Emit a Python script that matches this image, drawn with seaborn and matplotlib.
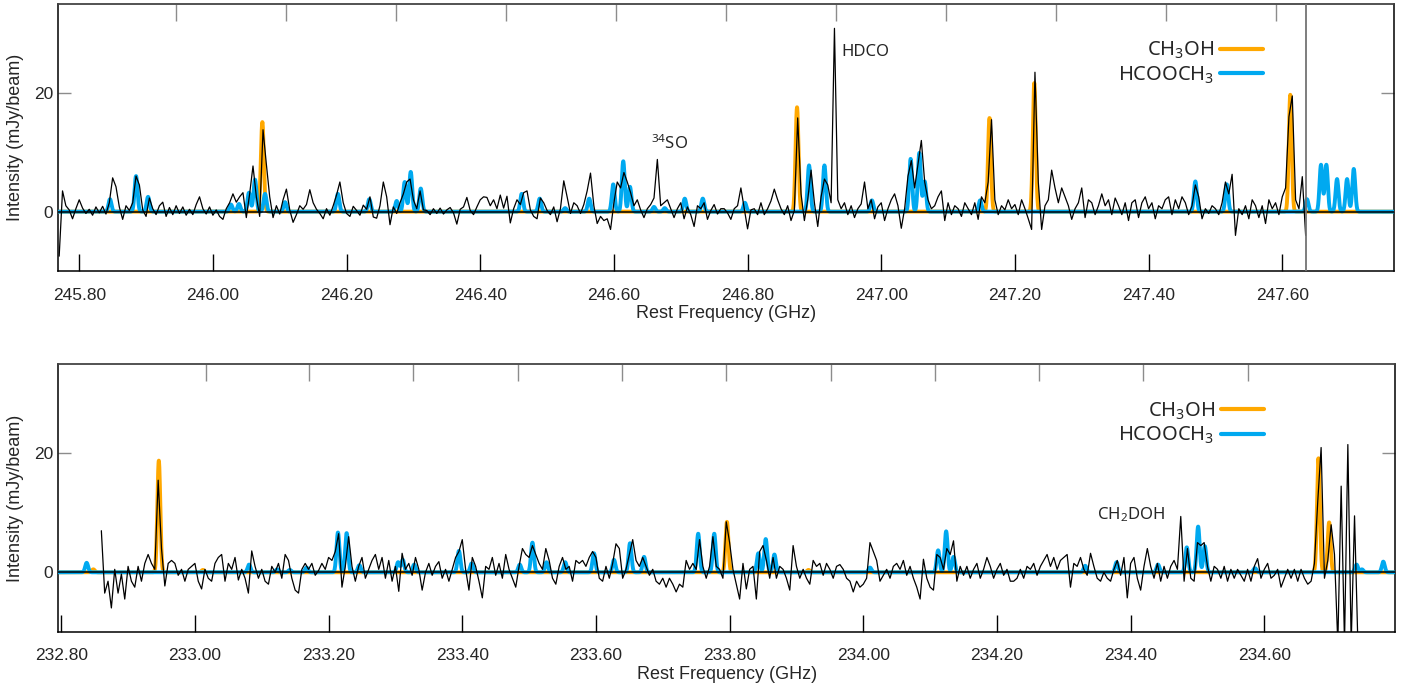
import numpy as np
import matplotlib
matplotlib.use("Agg")
import matplotlib.pyplot as plt
import seaborn as sns

# ---- observed spectra (mJy/beam), one value per 0.005 GHz channel ----
chan_width = 0.005
top_start = 245.770
top_obs = [
    -7.5, 3.5, 1.0, 0.3, -1.2, 0.5, 2.0, 0.6, -0.3, 0.4, -0.6, 0.8, -0.2, 0.9, -0.4, 1.5, 5.7, 4.2, 0.8, -1.3,
    1.0, 0.2, 1.5, 6.0, 4.5, 0.3, -0.8, 2.3, 0.5, -0.5, 1.0, 1.6, -0.8, 0.7, -0.5, 1.0, -0.3, 0.8, -0.6, 0.4,
    -0.5, 1.2, 2.5, 0.5, -0.4, 0.8, -0.6, 0.3, -0.8, -1.3, 0.5, 1.5, 3.0, 1.6, 2.5, 3.2, -1.0, 3.0, 7.7, 2.5,
    -0.8, 13.8, 8.0, 2.5, -1.0, 1.0, -0.4, 2.0, 3.8, 0.3, -1.8, -0.5, 1.0, 0.4, 1.2, 3.7, 1.5, 0.4, -0.3, -1.2,
    0.5, -0.6, 1.0, 2.8, 5.0, 1.5, -0.3, -0.8, 0.9, 0.2, -0.6, 1.1, 0.4, 2.5, -0.9, -1.1, 1.0, 5.0, 2.5, -2.2,
    0.8, -0.3, 1.5, 3.0, 5.0, 5.5, 2.0, 0.5, 3.5, 0.3, 0.2, -0.5, 0.5, -0.3, 0.6, -0.4, 0.3, 0.7, -0.2, -2.1,
    0.4, 0.8, 2.4, 0.2, -0.5, 0.8, 2.0, 2.5, 2.4, 1.0, 2.0, 0.5, 2.8, 0.6, 2.6, -1.9, 0.5, 2.0, 1.2, 3.2,
    3.5, 0.3, -0.8, -1.2, 2.3, 1.5, 0.2, -0.5, 0.8, -1.7, 0.5, 5.2, 2.5, -0.3, 1.5, 1.0, -0.3, 1.2, 3.5, 6.5,
    1.0, -2.0, -0.8, -1.5, -1.2, -3.0, 1.5, 5.0, 4.0, 6.6, 5.0, 3.2, 1.0, 2.0, 0.3, -1.0, 0.5, 1.2, 2.3, 8.8,
    1.0, 1.5, 2.0, 0.5, -1.0, 0.5, 1.5, -1.2, 0.8, -0.5, -2.5, 1.0, 0.5, 1.5, -1.3, 0.2, 1.2, -0.4, 0.5, 0.5,
    -0.2, -1.3, 0.5, 1.0, 4.0, 0.5, -2.9, 0.3, 0.5, -0.5, 1.5, -0.5, 0.5, 1.8, 3.8, 2.0, 0.5, -0.5, 1.0, -1.5,
    0.2, 15.8, 3.0, -1.5, 2.0, 7.0, 1.5, -2.5, 2.5, 5.5, 4.5, 1.5, 30.9, 2.0, 0.5, 1.5, -0.5, 1.0, -1.0, 0.5,
    1.3, 5.0, 0.5, 2.0, -1.2, 0.8, 1.5, -1.5, 0.5, 2.0, 3.0, 1.0, -2.8, 0.5, 6.0, 8.6, 4.0, 8.0, 12.0, 5.0,
    2.0, 0.5, 1.0, 2.5, 3.5, -1.5, 1.5, -0.5, 1.0, 0.5, -0.8, 1.5, 0.5, -0.5, 1.5, -1.3, 2.5, 1.5, 5.0, 15.5,
    2.0, -0.5, 1.0, 0.3, 2.0, 0.5, 1.2, -0.5, 2.0, 0.5, -1.2, -3.0, 23.5, 5.0, -3.0, 1.0, 2.0, 7.0, 4.0, 1.5,
    4.0, 2.5, 1.0, -1.3, 0.5, 1.5, 4.0, -1.0, 2.0, 1.5, -0.5, 1.0, 3.0, 1.0, 2.0, -0.5, 2.3, 1.0, -0.5, 1.5,
    -1.5, 1.5, 2.0, -1.0, 1.5, 2.5, 0.5, 1.5, -1.2, 1.0, 0.5, 2.0, 2.5, -0.5, 2.0, 0.5, 2.5, 1.5, -0.5, 1.0,
    4.5, 2.5, -1.2, 0.5, -0.3, 1.0, 0.5, -0.5, 1.5, 5.0, 3.0, 6.3, -4.0, 0.5, -0.5, 1.0, -1.2, 2.0, 1.0, -1.0,
    1.0, -2.0, 2.0, 0.5, 1.5, -0.5, 2.5, 4.0, 16.0, 19.5, 2.0, 0.5, 5.9, -4.0,
]

bot_start = 232.860
bot_obs = [
    7.0, -3.5, -1.5, -6.0, 0.5, -3.5, -0.3, -4.5, 1.0, -1.5, -2.5, 1.0, -1.5, 1.5, 3.0, 1.5, 0.5, 15.5, 4.0, -2.3,
    1.5, 2.0, 1.5, -0.5, 0.5, -1.5, 0.5, 1.0, 1.5, -1.5, -2.8, 0.5, -1.0, -1.5, 1.5, 2.5, 3.0, -1.5, 1.5, 0.5,
    2.5, -1.3, 0.5, -1.0, -3.5, 3.6, 1.0, -1.0, 0.5, -1.5, -2.0, 1.0, 0.0, 1.5, -1.0, 3.0, 2.0, -1.0, -3.0, -3.5,
    0.5, 1.5, 0.5, 1.5, -0.5, 0.3, 1.5, 0.5, 2.5, 2.0, 3.5, 6.5, -2.5, 1.0, 6.0, 1.0, -1.5, 1.0, 2.5, -1.0,
    0.5, 2.0, 3.0, 0.5, 2.5, -1.0, 2.0, -1.5, 1.0, -3.2, 3.2, 0.5, 1.5, -0.5, 2.5, 0.5, -3.0, 0.0, 1.5, -0.5,
    1.0, 1.8, -1.0, 0.5, -1.5, 0.5, 2.5, 3.5, 5.5, 0.5, -3.0, 2.5, 1.0, -1.5, -4.3, 1.0, 0.5, 2.5, -0.5, 1.5,
    -1.0, 3.0, 0.5, -1.0, -2.5, 1.0, 4.0, 3.0, 2.5, 4.5, 3.0, 1.5, 0.5, 4.0, 2.0, -1.0, -2.0, 1.0, 2.5, 0.5,
    1.0, -1.5, 2.0, 1.5, 2.0, 1.0, 2.5, 3.5, 2.5, -1.0, -1.5, 1.0, -1.0, 1.5, 4.8, 4.0, -1.0, 0.5, 3.0, 5.5,
    2.0, 1.0, 2.5, 1.0, -0.5, 0.5, -1.5, -2.0, -1.0, -2.5, -1.0, -2.0, -3.3, -2.0, -2.5, 2.0, 0.5, 1.5, 0.5, 5.5,
    1.0, -1.0, 1.0, 6.0, 1.0, 0.5, -1.0, 8.5, 5.0, 0.5, -2.0, -4.5, 1.5, -2.8, 0.5, 1.0, -4.5, 3.5, 4.5, 2.0,
    -1.0, 2.5, -1.0, 1.0, 0.5, -1.0, -3.0, 4.5, 1.0, -1.0, 0.5, -1.0, -2.0, 2.0, 1.0, 1.5, -0.5, 1.5, 0.5, -1.0,
    1.0, 1.3, 0.5, -1.0, -1.5, -3.3, -1.5, -2.5, -2.0, -1.0, 5.0, 3.5, 2.0, -1.5, -0.5, 0.5, -1.0, 1.0, 1.5, 0.5,
    2.0, -0.5, 1.0, -1.0, -2.5, -4.5, 2.2, -1.0, -2.5, -3.0, 3.0, 2.5, 0.5, 4.0, 3.0, 5.3, -1.5, 1.0, -0.5, 1.0,
    -1.0, 0.5, 1.5, -1.0, 0.5, 2.5, 1.0, -1.0, 0.5, 1.5, -0.5, 0.5, -1.5, -1.5, -1.0, 0.5, -1.0, 1.0, 0.5, 1.5,
    -0.5, 1.0, 2.0, 3.0, 1.0, 2.5, 0.5, 2.0, 2.5, 3.0, -2.5, 1.5, 1.0, 2.5, 0.5, -0.5, 3.2, 1.0, -1.0, -1.5,
    0.0, -1.0, -1.5, 0.5, 2.0, -0.5, 2.5, -4.3, 1.5, 2.5, -1.0, -3.0, 1.0, 4.0, 1.0, -1.0, 1.5, -1.5, 1.0, -1.0,
    1.0, 2.0, 0.5, 9.4, -1.5, 4.0, -1.0, -1.5, 5.0, 4.5, 5.0, 1.0, -1.5, 1.0, 0.5, -1.0, 1.0, -1.5, 0.5, -1.0,
    0.5, -0.5, -1.5, 0.5, -1.5, 1.0, 2.3, -1.0, 0.5, 1.5, -1.0, -0.5, 0.5, -2.5, -1.0, 0.5, -1.0, 0.5, -1.5, 0.5,
    -1.0, -2.0, -1.5, 1.5, 12.0, 21.0, -1.0, 2.0, 8.0, 3.0, -12.0, 14.5, -12.0, 21.5, -12.0, 9.5, -12.0,
]

# ---- synthetic line lists: rest frequency (GHz) and peak (mJy/beam) ----
top_ch3oh_freq = [246.074, 246.874, 247.162, 247.229, 247.612]
top_ch3oh_peak = [15.1, 17.6, 15.8, 21.7, 19.7]
top_hcooch3_freq = [245.846, 245.885, 245.903, 246.027, 246.039, 246.054, 246.063, 246.078, 246.108,
                    246.187, 246.234, 246.275, 246.287, 246.296, 246.311, 246.462, 246.489, 246.527,
                    246.563, 246.599, 246.614, 246.624, 246.660, 246.676, 246.706, 246.733, 246.796,
                    246.892, 246.915, 246.986, 247.044, 247.057, 247.065, 247.148, 247.470, 247.517,
                    247.637, 247.658, 247.666, 247.682, 247.697, 247.707]
top_hcooch3_peak = [2.1, 6.0, 2.5, 1.2, 1.3, 3.2, 5.4, 3.0, 1.6,
                    3.0, 2.1, 1.8, 5.0, 6.7, 3.9, 3.0, 2.2, 0.6,
                    2.2, 4.6, 8.5, 4.2, 0.8, 0.6, 2.2, 2.2, 1.5,
                    7.8, 7.8, 1.9, 8.9, 9.9, 5.1, 1.9, 5.1, 4.6,
                    2.1, 7.9, 7.9, 5.5, 5.5, 7.2]

bot_ch3oh_freq = [232.848, 232.946, 233.012, 233.796, 233.918, 234.681, 234.697]
bot_ch3oh_peak = [0.5, 18.8, 0.4, 8.5, 0.4, 19.2, 8.4]
bot_hcooch3_freq = [232.838, 233.081, 233.123, 233.142, 233.167, 233.214, 233.227, 233.246, 233.304,
                    233.311, 233.328, 233.395, 233.414, 233.486, 233.505, 233.526, 233.554, 233.597,
                    233.627, 233.651, 233.672, 233.753, 233.777, 233.843, 233.854, 233.867, 234.010,
                    234.112, 234.124, 234.135, 234.332, 234.379, 234.441, 234.484, 234.501, 234.511,
                    234.586, 234.738, 234.746, 234.778]
bot_hcooch3_peak = [1.6, 1.3, 0.5, 0.4, 0.8, 6.7, 6.6, 1.2, 1.7,
                    2.1, 1.3, 3.6, 1.5, 1.3, 5.0, 1.7, 1.7, 3.2,
                    2.1, 4.9, 2.6, 6.5, 6.5, 3.2, 5.6, 3.0, 0.8,
                    3.7, 6.9, 2.6, 1.1, 1.7, 1.3, 4.2, 7.7, 4.4,
                    0.7, 1.3, 0.5, 1.8]

# axis ticks
top_xticks = [245.80, 246.00, 246.20, 246.40, 246.60, 246.80, 247.00, 247.20, 247.40, 247.60]
bot_xticks = [232.80, 233.00, 233.20, 233.40, 233.60, 233.80, 234.00, 234.20, 234.40, 234.60]
top_upper_ticks = [245.945, 246.110, 246.274, 246.439, 246.603, 246.768, 246.933, 247.097,
                   247.262, 247.426, 247.591]
bot_upper_ticks = [233.016, 233.171, 233.327, 233.483, 233.639, 233.795, 233.951, 234.107,
                   234.263, 234.419, 234.575]

ORANGE = "#FFA800"
BLUE = "#00A9F0"
LINE_SIGMA = 0.0022  # GHz, width of the synthetic line profile

sns.set_style("ticks")
plt.rcParams["font.family"] = ["Liberation Sans", "DejaVu Sans"]
plt.rcParams["mathtext.fontset"] = "custom"
plt.rcParams["mathtext.rm"] = "Noto Sans"
plt.rcParams["mathtext.default"] = "regular"


def synth(grid, freqs, peaks):
    # sum of narrow line profiles centred on the listed transitions
    out = np.zeros_like(grid)
    for f0, p in zip(freqs, peaks):
        out += p * np.exp(-0.5 * ((grid - f0) / LINE_SIGMA) ** 2)
    return out


def draw_panel(ax, xlim, start, obs, ch_f, ch_p, hc_f, hc_p, xticks, upper_ticks):
    grid = np.linspace(xlim[0], xlim[1], 8000)
    freq = start + chan_width * np.arange(len(obs))

    sns.lineplot(x=grid, y=synth(grid, ch_f, ch_p), ax=ax, color=ORANGE, lw=2.8,
                 estimator=None, sort=False, label="CH$_3$OH", zorder=2)
    sns.lineplot(x=grid, y=synth(grid, hc_f, hc_p), ax=ax, color=BLUE, lw=2.8,
                 estimator=None, sort=False, label="HCOOCH$_3$", zorder=3)
    ax.axhline(0, color="black", lw=1.1, zorder=4)
    sns.lineplot(x=freq, y=obs, ax=ax, color="black", lw=0.9,
                 estimator=None, sort=False, zorder=5)

    ax.set_xlim(*xlim)
    ax.set_ylim(-10, 35)
    ax.set_xticks(xticks)
    ax.set_xticklabels([f"{t:.2f}" for t in xticks])
    ax.set_yticks([0, 20])
    ax.tick_params(axis="x", direction="in", length=12.5, width=1.0, color="black",
                   pad=12, labelsize=12.5, top=False)
    ax.tick_params(axis="y", direction="in", length=9.5, width=1.0, color="0.55",
                   pad=3.5, labelsize=12.5, left=True, right=True)
    for side in ["left", "right", "bottom", "top"]:
        ax.spines[side].set_visible(True)
        ax.spines[side].set_linewidth(1.1)
        ax.spines[side].set_color("black")
    ax.spines["top"].set_color("0.3")

    sec = ax.secondary_xaxis("top")
    sec.set_xticks(upper_ticks)
    sec.tick_params(direction="in", length=12.5, width=1.0, color="0.55", labeltop=False)
    sec.spines["top"].set_color("0.3")
    sec.spines["top"].set_linewidth(1.1)

    ax.set_xlabel("Rest Frequency (GHz)", fontsize=13, labelpad=2)
    ax.set_ylabel("Intensity (mJy/beam)", fontsize=13, labelpad=7)

    handles, labels = ax.get_legend_handles_labels()
    leg = ax.legend(handles[:2], labels[:2], loc="upper right", bbox_to_anchor=(0.902, 0.865),
                    frameon=False, markerfirst=False, handlelength=2.15, handletextpad=0.3,
                    labelspacing=0.15, borderpad=0, borderaxespad=0,
                    prop={"family": "Noto Sans", "size": 14.5})
    for line in leg.get_lines():
        line.set_linewidth(3.0)


fig = plt.figure(figsize=(14.17, 6.92), dpi=100)
ax_top = fig.add_axes([0.0411, 0.6084, 0.9429, 0.3858])
ax_bot = fig.add_axes([0.0411, 0.0871, 0.9434, 0.3864])

draw_panel(ax_top, (245.7686, 247.7677), top_start, top_obs,
           top_ch3oh_freq, top_ch3oh_peak, top_hcooch3_freq, top_hcooch3_peak,
           top_xticks, top_upper_ticks)
ax_top.axvline(247.636, color="0.45", lw=1.3, zorder=6)
ax_top.text(246.941, 26.9, "HDCO", fontsize=12, family="Noto Sans", va="center", ha="left")
ax_top.text(246.655, 11.5, "$^{34}$SO", fontsize=12, family="Noto Sans", va="center", ha="left")

draw_panel(ax_bot, (232.7955, 234.7956), bot_start, bot_obs,
           bot_ch3oh_freq, bot_ch3oh_peak, bot_hcooch3_freq, bot_hcooch3_peak,
           bot_xticks, bot_upper_ticks)
ax_bot.text(234.350, 9.7, "CH$_2$DOH", fontsize=12, family="Noto Sans", va="center", ha="left")

fig.savefig("out.png", dpi=100)
